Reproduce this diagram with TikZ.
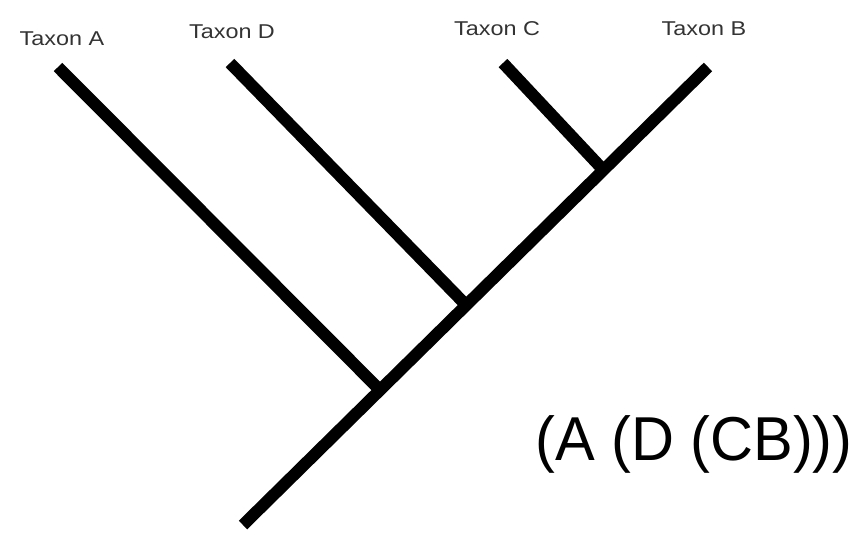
\documentclass[tikz,border=0pt]{standalone}
\usepackage{fontspec}
\setmainfont{Liberation Sans}
\usetikzlibrary{calc}
\begin{document}
\begin{tikzpicture}[x=1pt,y=-1pt,
  branch/.style={line width=12pt, line cap=butt},
  taxon/.style={font=\fontsize{20}{20}\selectfont, text=black!80, anchor=base, inner sep=0pt},
  formula/.style={font=\fontsize{62}{62}\selectfont, text=black, anchor=base, inner sep=0pt}]
\useasboundingbox (0,0) rectangle (861,536);
\coordinate (root) at (243,525);
\coordinate (tB) at (708,67);
\coordinate (tA) at (58,67);
\coordinate (tD) at (230,63);
\coordinate (tC) at (503,63);
\coordinate (jA) at ($(root)!0.2946!(tB)$);
\coordinate (jD) at ($(root)!0.48!(tB)$);
\coordinate (jC) at ($(root)!0.775!(tB)$);
\draw[branch] (root) -- (tB);
\draw[branch] (tA) -- (jA);
\draw[branch] (tD) -- (jD);
\draw[branch] (tC) -- (jC);
\node[taxon] (lA) at (62,45) {\scalebox{1.17}[1]{Taxon A}};
\node[taxon] (lD) at (232,38) {\scalebox{1.17}[1]{Taxon D}};
\node[taxon] (lC) at (497,35) {\scalebox{1.17}[1]{Taxon C}};
\node[taxon] (lB) at (704,35) {\scalebox{1.17}[1]{Taxon B}};
\node[formula] (f) at (694,460) {\scalebox{0.96}[1]{(A (D (CB)))}};
\end{tikzpicture}
\end{document}
